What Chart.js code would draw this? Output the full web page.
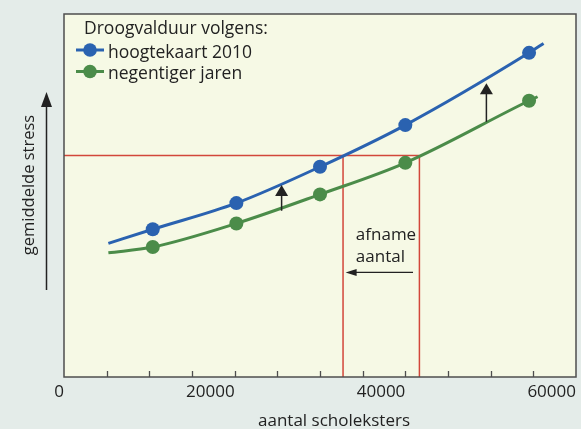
<!DOCTYPE html>
<html><head><meta charset="utf-8">
<script src="https://cdn.jsdelivr.net/npm/chart.js@4/dist/chart.umd.min.js"></script>
<style>html,body{margin:0;padding:0;background:#e4ece9;}#wrap{width:581px;height:429px;}</style>
</head><body><div id="wrap"><canvas id="c" width="581" height="429"></canvas></div>
<script>
// ---- data ----
const seriesNames = ['hoogtekaart 2010', 'negentiger jaren'];
const legendTitle = 'Droogvalduur volgens:';
const xTitle = 'aantal scholeksters';
const yTitle = 'gemiddelde stress';
const xTickValues = [0, 20000, 40000, 60000];
// line extents (first/last) and markers (in between)
const blueX  = [5200, 10400, 20200, 30000, 40000, 54500, 56200];
const blueY  = [36.8, 40.7, 47.9, 57.9, 69.4, 89.3, 91.9];
const greenX = [5200, 10400, 20200, 30000, 40000, 54500, 55500];
const greenY = [34.2, 35.8, 42.3, 50.3, 59.0, 76.1, 77.2];
// red reading lines
const stressLevel = 61.0;
const crossX = [32700, 41650];
// black up arrows between the curves
const upArrowX = [25500, 49500];
const upArrowFrom = [45.8, 70.3];
const upArrowTo = [52.9, 80.9];
// "afname aantal" annotation
const noteLines = ['afname', 'aantal'];
const noteX = 34200;
const noteY = [37.7, 31.8];
const leftArrowFromX = 40900, leftArrowToX = 33000, leftArrowY = 28.8;

const BLUE = '#2a62b0', GREEN = '#4b8c49', RED = '#d2473a', INK = '#222222';
const FONT = '"Open Sans", "Noto Sans", sans-serif';

const toPts = (xs, ys) => xs.map((x, i) => ({x, y: ys[i]}));
const radius = ctx => (ctx.dataIndex === 0 || ctx.dataIndex === ctx.dataset.data.length - 1) ? 0 : 7;

function arrowHead(ctx, x, y, dir, len, half) {
  ctx.beginPath();
  if (dir === 'up') { ctx.moveTo(x, y); ctx.lineTo(x - half, y + len); ctx.lineTo(x + half, y + len); }
  else { ctx.moveTo(x, y); ctx.lineTo(x + len, y - half); ctx.lineTo(x + len, y + half); }
  ctx.closePath(); ctx.fill();
}

const deco = {
  id: 'deco',
  beforeDraw(chart) {
    const {ctx, chartArea: a} = chart;
    ctx.save();
    ctx.fillStyle = '#e4ece9'; ctx.fillRect(0, 0, chart.width, chart.height);
    ctx.fillStyle = '#f6f9e5'; ctx.fillRect(a.left, a.top, a.right - a.left, a.bottom - a.top);
    ctx.restore();
  },
  beforeDatasetsDraw(chart) {
    const {ctx, chartArea: a, scales: {x, y}} = chart;
    const yp = y.getPixelForValue(stressLevel);
    const x1 = x.getPixelForValue(crossX[0]), x2 = x.getPixelForValue(crossX[1]);
    ctx.save();
    ctx.strokeStyle = RED; ctx.lineWidth = 1.5;
    ctx.beginPath();
    ctx.moveTo(a.left, yp); ctx.lineTo(x2, yp);
    ctx.moveTo(x1, yp); ctx.lineTo(x1, a.bottom);
    ctx.moveTo(x2, yp); ctx.lineTo(x2, a.bottom);
    ctx.stroke();
    ctx.restore();
  },
  afterDatasetsDraw(chart) {
    const {ctx, chartArea: a, scales: {x, y}} = chart;
    ctx.save();
    // up arrows
    ctx.fillStyle = INK; ctx.strokeStyle = INK; ctx.lineWidth = 1.5;
    upArrowX.forEach((v, i) => {
      const px = x.getPixelForValue(v);
      const y0 = y.getPixelForValue(upArrowFrom[i]), y1 = y.getPixelForValue(upArrowTo[i]);
      ctx.beginPath(); ctx.moveTo(px, y0); ctx.lineTo(px, y1 + 8); ctx.stroke();
      arrowHead(ctx, px, y1, 'up', 11, 6.5);
    });
    // note text
    ctx.font = '17px ' + FONT; ctx.textAlign = 'left'; ctx.textBaseline = 'alphabetic';
    noteLines.forEach((t, i) => ctx.fillText(t, x.getPixelForValue(noteX), y.getPixelForValue(noteY[i])));
    // left arrow
    const ly = y.getPixelForValue(leftArrowY);
    const lx0 = x.getPixelForValue(leftArrowFromX), lx1 = x.getPixelForValue(leftArrowToX);
    ctx.lineWidth = 1.2;
    ctx.beginPath(); ctx.moveTo(lx0, ly); ctx.lineTo(lx1 + 8, ly); ctx.stroke();
    arrowHead(ctx, lx1, ly, 'left', 11, 3.5);
    // plot border
    ctx.strokeStyle = '#4e4e4e'; ctx.lineWidth = 1.5;
    ctx.strokeRect(a.left, a.top, a.right - a.left, a.bottom - a.top);
    // inward minor ticks
    ctx.lineWidth = 1.3;
    ctx.beginPath();
    for (let v = 5000; v < 60000; v += 5000) {
      const px = Math.round(x.getPixelForValue(v)) + 0.5;
      ctx.moveTo(px, a.bottom); ctx.lineTo(px, a.bottom - 6);
    }
    ctx.stroke();
    // legend
    ctx.fillStyle = INK;
    ctx.font = '17.5px ' + FONT;
    ctx.fillText(legendTitle, 84, 33.5);
    [[BLUE, 50, 57.5], [GREEN, 71.5, 79]].forEach(([col, cy, by], i) => {
      ctx.strokeStyle = col; ctx.lineWidth = 3;
      ctx.beginPath(); ctx.moveTo(76, cy); ctx.lineTo(104, cy); ctx.stroke();
      ctx.fillStyle = col; ctx.beginPath(); ctx.arc(90, cy, 6.8, 0, Math.PI * 2); ctx.fill();
      ctx.fillStyle = INK; ctx.fillText(seriesNames[i], 108, by);
    });
    // axis titles
    ctx.font = '17px ' + FONT; ctx.textAlign = 'center';
    ctx.fillText(xTitle, 334, 426);
    ctx.save();
    ctx.translate(29.5, 185); ctx.rotate(-Math.PI / 2);
    ctx.font = '16.5px ' + FONT; ctx.textBaseline = 'middle';
    ctx.fillText(yTitle, 0, 0);
    ctx.restore();
    // y axis arrow
    ctx.strokeStyle = INK; ctx.fillStyle = INK; ctx.lineWidth = 1.5;
    ctx.beginPath(); ctx.moveTo(46.5, 290); ctx.lineTo(46.5, 100); ctx.stroke();
    arrowHead(ctx, 46.5, 92, 'up', 15, 5.5);
    ctx.restore();
  }
};

new Chart(document.getElementById('c'), {
  type: 'line',
  data: {
    datasets: [
      {label: seriesNames[0], data: toPts(blueX, blueY), borderColor: BLUE, backgroundColor: BLUE,
       borderWidth: 3, pointRadius: radius, pointHoverRadius: radius, pointBorderWidth: 0,
       cubicInterpolationMode: 'monotone', fill: false},
      {label: seriesNames[1], data: toPts(greenX, greenY), borderColor: GREEN, backgroundColor: GREEN,
       borderWidth: 3, pointRadius: radius, pointHoverRadius: radius, pointBorderWidth: 0,
       cubicInterpolationMode: 'monotone', fill: false}
    ]
  },
  options: {
    responsive: false, animation: false, devicePixelRatio: 1,
    layout: {padding: {left: 64, right: 3, top: 14, bottom: 0}},
    plugins: {legend: {display: false}, tooltip: {enabled: false}},
    scales: {
      x: {
        type: 'linear', min: 0, max: 60000,
        afterBuildTicks: s => { s.ticks = xTickValues.map(v => ({value: v})); },
        afterFit: s => { s.height = 52; },
        grid: {display: false, drawTicks: false},
        border: {display: false},
        ticks: {align: 'end', padding: 5, color: INK, font: {family: FONT, size: 17},
                callback: v => String(v), maxRotation: 0, autoSkip: false}
      },
      y: {type: 'linear', min: 0, max: 100, display: false}
    }
  },
  plugins: [deco]
});
</script></body></html>
